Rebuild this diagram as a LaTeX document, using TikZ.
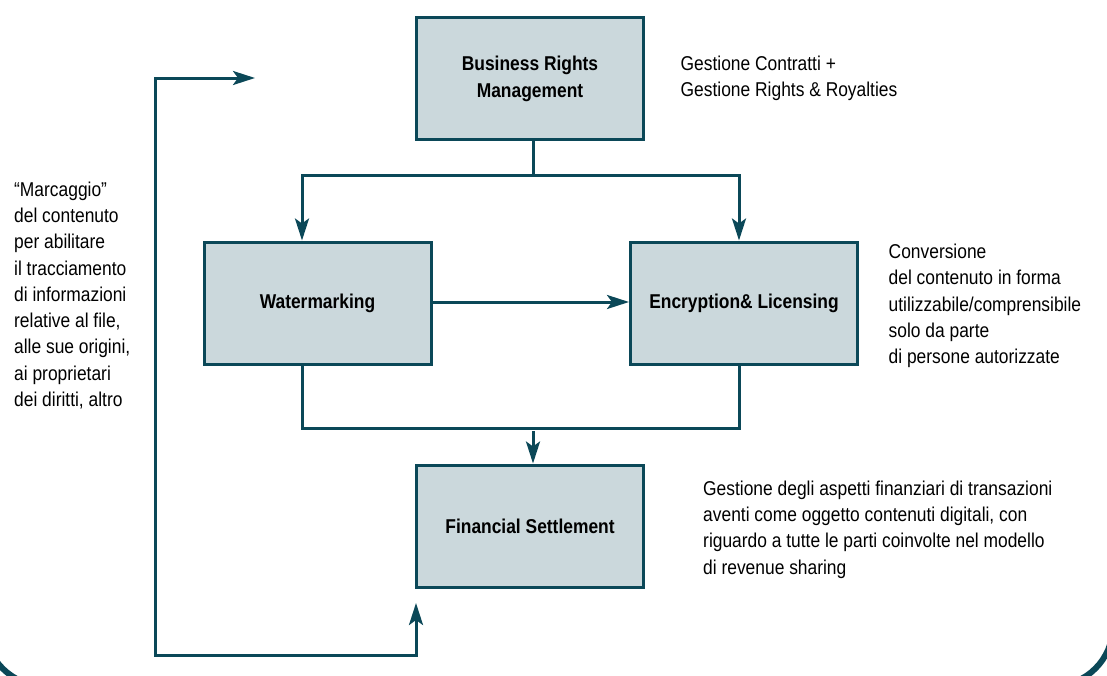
\documentclass[tikz,border=0pt]{standalone}
\usepackage{fontspec}
\setmainfont{Liberation Sans}[FakeStretch=0.87]
\usetikzlibrary{arrows.meta}
\definecolor{dteal}{HTML}{0B4858}
\definecolor{boxfill}{HTML}{CBD8DC}
\tikzset{
  tip/.tip={Stealth[length=22pt, width=14pt, inset=5pt]},
  conn/.style={draw=dteal, line width=3pt},
  arr/.style={conn, -tip},
  stepbox/.style={draw=dteal, line width=3pt, fill=boxfill, minimum width=227pt, minimum height=122pt, align=center, font=\fontsize{20}{27}\selectfont\bfseries},
  note/.style={anchor=north west, inner sep=0pt, align=left, font=\fontsize{20}{26.3}\selectfont}
}
\begin{document}
\begin{tikzpicture}[x=1pt,y=-1pt]
\useasboundingbox (0,0) rectangle (1107,675);
\begin{scope}
\clip (0,0) rectangle (1107,675);
\draw[dteal, line width=6pt, rounded corners=60pt] (-15,-100) -- (-15,686) -- (1113,686) -- (1113,-100);
\end{scope}
% boxes
\node[stepbox] (BRM) at (530,78.5) {Business Rights\\Management};
\node[stepbox] (W) at (317.5,303) {Watermarking};
\node[stepbox] (E) at (744,303) {Encryption\& Licensing};
\node[stepbox] (F) at (530,526) {Financial Settlement};
% notes
\node[note] (n1) at (680.5,55.5) {Gestione Contratti +\\Gestione Rights \& Royalties};
\node[note] (n2) at (14,181.5) {“Marcaggio”\\del contenuto\\per abilitare\\il tracciamento\\di informazioni\\relative al file,\\alle sue origini,\\ai proprietari\\dei diritti, altro};
\node[note] (n3) at (888.5,244) {Conversione\\del contenuto in forma\\utilizzabile/comprensibile\\solo da parte\\di persone autorizzate};
\node[note] (n4) at (703,480.5) {Gestione degli aspetti finanziari di transazioni\\aventi come oggetto contenuti digitali, con\\riguardo a tutte le parti coinvolte nel modello\\di revenue sharing};
% connectors
\coordinate (bj) at (533,175);
\coordinate (wl) at (302,175);
\coordinate (er) at (739,175);
\draw[conn] (BRM.south -| bj) -- (bj);
\draw[conn, line cap=rect] (wl) -- (er);
\draw[arr] (wl) -- (W.north -| wl);
\draw[arr] (er) -- (E.north -| er);
\draw[arr] (W.east |- 0,302) -- (E.west |- 0,302);
\coordinate (bl) at (302,428);
\coordinate (br) at (739,428);
\coordinate (fj) at (533,431);
\draw[conn] (W.south -| bl) |- (br) -- (E.south -| br);
\draw[arr] (fj) -- (F.north -| fj);
\coordinate (la) at (255,78);
\coordinate (lt) at (155,78);
\coordinate (lb) at (155,655);
\coordinate (fb) at (416,655);
\coordinate (fa) at (416,603);
\draw[conn, tip-tip] (la) -- (lt) -- (lb) -- (fb) -- (fa);
\end{tikzpicture}
\end{document}
